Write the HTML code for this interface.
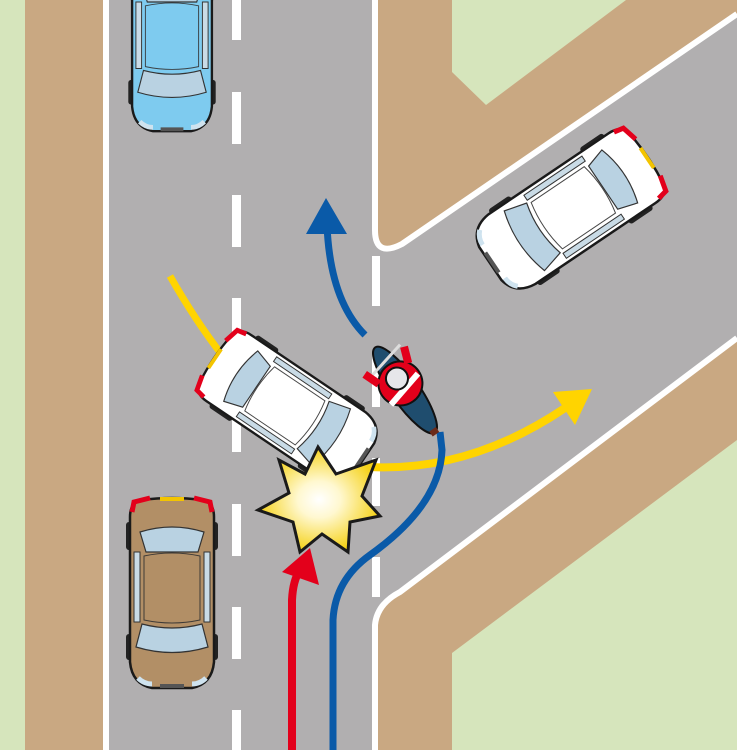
<!DOCTYPE html>
<html><head><meta charset="utf-8"><style>html,body{margin:0;padding:0;background:#fff}svg{display:block}</style></head>
<body>
<svg width="737" height="750" viewBox="0 0 737 750" xmlns="http://www.w3.org/2000/svg">
<defs>
<radialGradient id="boom" cx="0.5" cy="0.5" r="0.5"><stop offset="0" stop-color="#fff"/><stop offset="0.35" stop-color="#fff8d0"/><stop offset="1" stop-color="#f5d21a"/></radialGradient>
<g id="car">
  <rect x="-70" y="-46" width="28" height="8" rx="3" fill="#222"/>
  <rect x="42" y="-46" width="26" height="8" rx="3" fill="#222"/>
  <rect x="-70" y="38" width="28" height="8" rx="3" fill="#222"/>
  <rect x="42" y="38" width="26" height="8" rx="3" fill="#222"/>
  <path d="M-92,-30 Q-96,0 -92,30 Q-90,42 -75,42 L70,42 Q92,40 96,20 L96,-20 Q92,-40 70,-42 L-75,-42 Q-90,-42 -92,-30Z" fill="var(--c)" stroke="#1a1a1a" stroke-width="2.5"/>
  <path d="M-60,-32 L-40,-26 L-40,26 L-60,32 Q-70,0 -60,-32Z" fill="#b9d2e2" stroke="#333" stroke-width="1.2"/>
  <path d="M-36,-28 L28,-28 Q34,0 28,28 L-36,28 Q-42,0 -36,-28Z" fill="var(--c)" stroke="#333" stroke-width="1" opacity="0.9"/>
  <path d="M32,-30 L55,-36 Q66,0 55,36 L32,30 Q40,0 32,-30Z" fill="#b9d2e2" stroke="#333" stroke-width="1.2"/>
  <path d="M-40,-32 L30,-32 L30,-38 L-40,-38Z" fill="#c9dbe6" stroke="#333" stroke-width="1"/>
  <path d="M-40,32 L30,32 L30,38 L-40,38Z" fill="#c9dbe6" stroke="#333" stroke-width="1"/>
  <path d="M-94,-22 L-90,-38 L-80,-40" fill="none" stroke="#e3001b" stroke-width="5"/>
  <path d="M-94,22 L-90,38 L-80,40" fill="none" stroke="#e3001b" stroke-width="5"/>
  <path d="M-93,-12 L-93,12" stroke="#f3c400" stroke-width="4"/>
  <path d="M86,-34 Q92,-28 92,-20" fill="none" stroke="#cfe3ef" stroke-width="5"/>
  <path d="M86,34 Q92,28 92,20" fill="none" stroke="#cfe3ef" stroke-width="5"/>
  <path d="M94,-12 L94,12" stroke="#555" stroke-width="4"/>
</g>
</defs>
<!-- background -->
<rect width="737" height="750" fill="#d6e5bc"/>
<rect x="25" y="0" width="80" height="750" fill="#c9a882"/>
<rect x="103" y="0" width="6" height="750" fill="#fff"/>
<rect x="109" y="0" width="628" height="750" fill="#b1afb0"/>
<!-- top right sidewalk -->
<path d="M375,0 L737,0 L737,14 L402,244 Q375,258 375,230Z" fill="#c9a882"/>
<path d="M452,0 L626,0 L486,105 L452,72Z" fill="#d6e5bc"/>
<path d="M375,0 L375,230 Q375,258 402,244 L737,14" fill="none" stroke="#fff" stroke-width="6"/>
<!-- bottom right sidewalk -->
<path d="M737,338 L737,750 L375,750 L375,625 Q377,604 400,592Z" fill="#c9a882"/>
<path d="M737,440 L737,750 L452,750 L452,653Z" fill="#d6e5bc"/>
<path d="M737,338 L400,592 Q377,604 375,625 L375,750" fill="none" stroke="#fff" stroke-width="6"/>
<!-- center dashes -->
<g fill="#fff">
<rect x="232" y="-12" width="9" height="52"/><rect x="232" y="92" width="9" height="52"/><rect x="232" y="195" width="9" height="52"/><rect x="232" y="298" width="9" height="52"/><rect x="232" y="400" width="9" height="52"/><rect x="232" y="504" width="9" height="52"/><rect x="232" y="607" width="9" height="52"/><rect x="232" y="710" width="9" height="52"/>
<rect x="372" y="256" width="8" height="50"/><rect x="372" y="355" width="8" height="52"/><rect x="372" y="458" width="8" height="48"/><rect x="372" y="557" width="8" height="40"/>
</g>
<!-- yellow path -->
<path d="M170,276 Q195,320 222,355" fill="none" stroke="#ffd400" stroke-width="7"/>
<path d="M370,467 Q470,472 565,408" fill="none" stroke="#ffd400" stroke-width="8"/>
<path d="M592,389 L553,392 L575,425Z" fill="#ffd400"/>
<!-- red path -->
<path d="M292,750 L292,600 Q293,580 300,570" fill="none" stroke="#e3001b" stroke-width="8"/>
<path d="M310,548 L282,572 L319,585Z" fill="#e3001b"/>
<!-- blue path -->
<path d="M333,750 L333,620 Q335,580 370,555 Q440,505 442,450 L440,432" fill="none" stroke="#0a5aa8" stroke-width="7"/>
<path d="M365,335 Q330,300 327,225" fill="none" stroke="#0a5aa8" stroke-width="7"/>
<path d="M326,198 L306,234 L347,234Z" fill="#0a5aa8"/>
<!-- cars -->
<g transform="translate(172,40) rotate(90) scale(0.95)" style="--c:#7ecbef"><use href="#car"/></g>
<g transform="translate(172,592) rotate(90) scale(1.0)" style="--c:#b28f66"><use href="#car"/></g>
<g transform="translate(570,210) rotate(146) scale(1.0)" style="--c:#fff"><use href="#car"/></g>
<g transform="translate(288,408) rotate(34) scale(0.95)" style="--c:#fff"><use href="#car"/></g>
<!-- motorbike -->
<g transform="translate(405,390) rotate(55)">
  <ellipse cx="0" cy="0" rx="52" ry="14" fill="#1f4d6e" stroke="#111" stroke-width="2"/>
  <path d="M-40,-22 L-30,22" stroke="#ddd" stroke-width="3"/>
  <ellipse cx="-8" cy="0" rx="22" ry="22" fill="#e3001b" stroke="#111" stroke-width="2"/>
  <path d="M-20,-18 L-36,-24 M-20,18 L-36,24" stroke="#e3001b" stroke-width="8"/>
  <path d="M-6,-20 L4,20" stroke="#fff" stroke-width="6"/>
  <circle cx="-14" cy="0" r="11" fill="#e6e6ea" stroke="#111" stroke-width="2"/>
  <rect x="48" y="-4" width="6" height="8" fill="#6b2a1a"/>
</g>
<!-- starburst -->
<path d="M318,447 L336,474 L376,460 L362,496 L380,516 L350,522 L348,552 L322,534 L300,552 L293,522 L258,510 L289,493 L279,460 L305,474Z" fill="url(#boom)" stroke="#1a1a1a" stroke-width="3" stroke-linejoin="miter"/>
</svg>
</body></html>
